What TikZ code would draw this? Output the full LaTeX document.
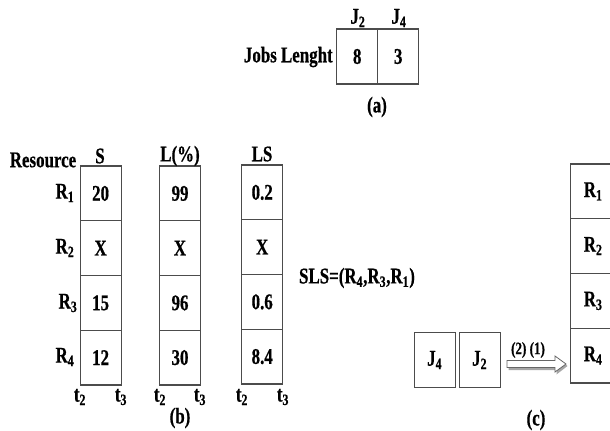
\documentclass[tikz,border=0pt]{standalone}
\usepackage{fontspec}
\setmainfont{Liberation Serif}[FakeStretch=0.755, BoldFeatures={FakeBold=0.6}]
\begin{document}
\begin{tikzpicture}[x=0.75pt,y=-0.75pt,
  font=\bfseries\fontsize{16.8pt}{19pt}\selectfont,
  cell/.style={draw=black!70, line width=0.8pt, minimum width=30.75pt, minimum height=41.06pt, inner sep=0pt},
  lbl/.style={inner sep=0pt},
  small/.style={inner sep=0pt, font=\bfseries\fontsize{13pt}{15pt}\selectfont}]
\useasboundingbox (0,0) rectangle (610,431);

% (a)
\node[cell, minimum height=41.25pt] (a1) at (357.2,56.5) {8};
\node[cell, minimum height=41.25pt] (a2) at (398.2,56.5) {3};
\node[lbl, anchor=east] (jl) at (333,57) {Jobs Lenght};
\node[lbl] (aj2) at (358,18) {J\textsubscript{2}};
\node[lbl] (aj4) at (399,18) {J\textsubscript{4}};
\node[lbl] (capa) at (377,107) {(a)};

% (b)
\def\rowy{{193.4,248.1,302.9,357.6}}
\foreach \v [count=\i from 0] in {20,X,15,12}{
  \pgfmathsetmacro\yy{\rowy[\i]}
  \node[cell] (s\i) at (100.6,\yy) {\v};
}
\foreach \v [count=\i from 0] in {99,X,96,30}{
  \pgfmathsetmacro\yy{\rowy[\i]}
  \node[cell] (l\i) at (180,\yy) {\v};
}
\foreach \v [count=\i from 0] in {0.2,X,0.6,8.4}{
  \pgfmathsetmacro\yy{\rowy[\i]-1}
  \node[cell] (ls\i) at (262.2,\yy) {\v};
}
\node[lbl] (r1) at (65,193) {R\textsubscript{1}};
\node[lbl] (r2) at (65,248) {R\textsubscript{2}};
\node[lbl] (r3) at (68,303) {R\textsubscript{3}};
\node[lbl] (r4) at (65,357) {R\textsubscript{4}};
\node[lbl] (res) at (43,160) {Resource};
\node[lbl] (hs) at (100,156) {S};
\node[lbl] (hl) at (180,156) {L(\%)};
\node[lbl] (hls) at (262,154) {LS};
\foreach \xa/\xb/\n in {80/121/s,160/200/l,242/283/ls}{
  \node[lbl] (\n t2) at (\xa,397) {t\textsubscript{2}};
  \node[lbl] (\n t3) at (\xb,397) {t\textsubscript{3}};
}
\node[lbl] (capb) at (180,418) {(b)};
\node[lbl] (sls) at (357,278) {SLS=(R\textsubscript{4},R\textsubscript{3},R\textsubscript{1})};

% (c)
\node[cell, minimum width=31pt, minimum height=40.7pt] (j4) at (434.7,360) {J\textsubscript{4}};
\node[cell, minimum width=31pt, minimum height=40.7pt] (j2) at (479.7,360) {J\textsubscript{2}};
\foreach \v [count=\i from 0] in {1,2,3,4}{
  \pgfmathsetmacro\yy{\rowy[\i]-2}
  \node[cell, minimum width=33.75pt] (c\i) at (593.2,\yy) {R\textsubscript{\v}};
}
\coordinate (ta) at (507,364);
\begin{scope}[shift={(ta)}]
  \fill[black!35] (1.5,-2) -- (49.5,-2) -- (49.5,-6.5) -- (60.5,2) -- (49.5,10.5) -- (49.5,6) -- (1.5,6) -- cycle;
  \draw[black!60, fill=white, line width=0.6pt] (0,-3.5) -- (48,-3.5) -- (48,-8) -- (59,0) -- (48,8) -- (48,3.5) -- (0,3.5) -- cycle;
\end{scope}
\node[small] (lab) at (528,350) {(2) (1)};
\node[lbl] (capc) at (536,420) {(c)};
\end{tikzpicture}
\end{document}
